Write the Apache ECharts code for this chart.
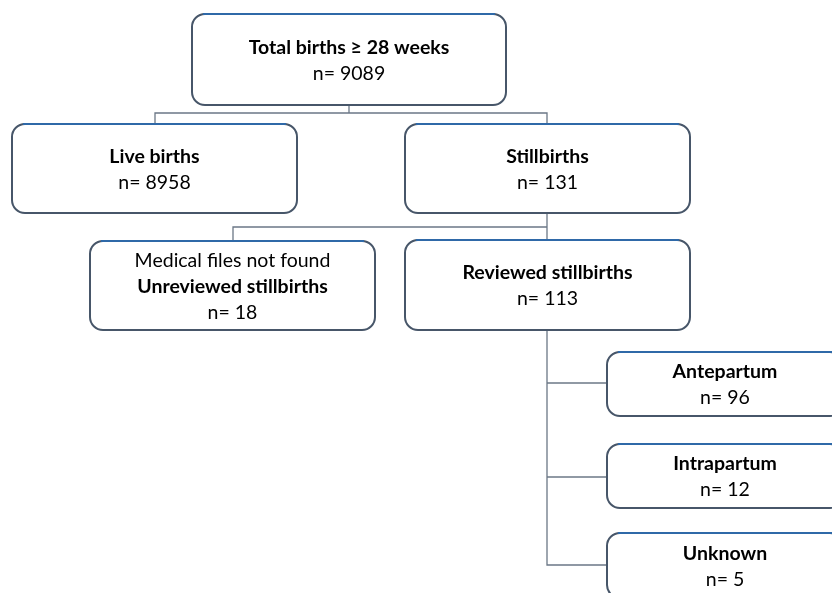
<!DOCTYPE html>
<html>
<head>
<meta charset="utf-8">
<script src="https://cdn.jsdelivr.net/npm/echarts@6/dist/echarts.min.js"></script>
<style>html,body{margin:0;padding:0;background:#fff}#c{width:832px;height:593px}</style>
</head>
<body>
<div id="c"></div>
<script>
// ---- data ----
const titles = ['Total births \u2265 28 weeks', 'Live births', 'Stillbirths', 'Unreviewed stillbirths', 'Reviewed stillbirths', 'Antepartum', 'Intrapartum', 'Unknown'];
const notes  = ['', '', '', 'Medical files not found', '', '', '', ''];
const counts = [9089, 8958, 131, 18, 113, 96, 12, 5];

// ---- layout (axis units = px on a 832 x 593 canvas) ----
const boxLayout = [
  [192, 14, 506, 105],
  [12, 124, 297, 213],
  [405, 124, 690, 213],
  [90, 241, 375, 330],
  [405, 240, 690, 330],
  [607, 352, 843, 416],
  [607, 444, 843, 508],
  [607, 533, 843, 598]
];
const connectors = [
  [[349, 105], [349, 113]],
  [[155, 124], [155, 113], [547, 113], [547, 124]],
  [[547, 213], [547, 240]],
  [[233, 241], [233, 227], [547, 227]],
  [[547, 330], [547, 565], [607, 565]],
  [[547, 383], [607, 383]],
  [[547, 477], [607, 477]]
];

const FONT = 'Lato, "Open Sans", sans-serif';
const chart = echarts.init(document.getElementById('c'));
chart.setOption({
  animation: false,
  backgroundColor: '#ffffff',
  grid: { left: 0, right: 0, top: 0, bottom: 0 },
  xAxis: { type: 'value', min: 0, max: 832, show: false },
  yAxis: { type: 'value', min: 0, max: 593, inverse: true, show: false },
  series: [
    {
      type: 'lines',
      coordinateSystem: 'cartesian2d',
      polyline: true,
      silent: true,
      lineStyle: { color: '#6b7786', width: 1.3, opacity: 1 },
      data: connectors.map(c => ({ coords: c }))
    },
    {
      type: 'custom',
      coordinateSystem: 'cartesian2d',
      silent: true,
      data: titles.map((t, i) => [i]),
      renderItem: function (params, api) {
        const i = api.value(0);
        const b = boxLayout[i];
        const p1 = api.coord([b[0], b[1]]);
        const p2 = api.coord([b[2], b[3]]);
        const w = p2[0] - p1[0], h = p2[1] - p1[1];
        const r = 13;
        let txt = '';
        if (notes[i]) txt += '{r|' + notes[i] + '}\n';
        txt += '{b|' + titles[i] + '}\n{r|n= ' + counts[i] + '}';
        return {
          type: 'group',
          children: [
            {
              type: 'rect',
              shape: { x: p1[0], y: p1[1], width: w, height: h, r: r },
              style: { fill: '#ffffff', stroke: '#475669', lineWidth: 2 }
            },
            {
              type: 'line',
              shape: { x1: p1[0] + r - 2, y1: p1[1], x2: p2[0] - r + 2, y2: p1[1] },
              style: { stroke: '#2f69a8', lineWidth: 2 }
            },
            {
              type: 'text',
              style: {
                x: p1[0] + w / 2,
                y: p1[1] + h / 2 + 1,
                text: txt,
                align: 'center',
                verticalAlign: 'middle',
                rich: {
                  b: { fontFamily: FONT, fontWeight: 'bold', fontSize: 19.5, lineHeight: 26, color: '#1b1b1b', align: 'center' },
                  r: { fontFamily: FONT, fontWeight: 'normal', fontSize: 19.5, lineHeight: 26, color: '#1b1b1b', align: 'center' }
                }
              }
            }
          ]
        };
      }
    }
  ]
});
</script>
</body>
</html>
